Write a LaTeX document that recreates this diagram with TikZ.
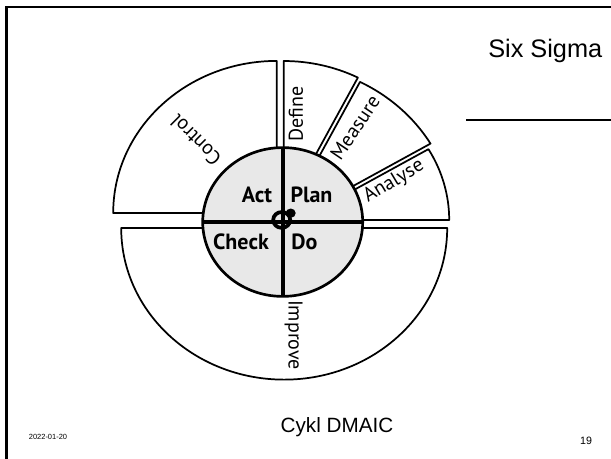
\documentclass[tikz,border=0pt]{standalone}
\usepackage{fontspec}
\setmainfont{Liberation Sans}
\newfontfamily\dfont{PT Sans}
\usetikzlibrary{calc}
\newcommand\mysector[4]{%
  \draw[sector] ($(#1)+(#2:40)$) -- ($(#1)+(#2:#4)$) arc[start angle=#2, end angle=#3, radius=#4] -- ($(#1)+(#3:40)$) -- cycle;}
\begin{document}
\begin{tikzpicture}[x=0.75pt,y=-0.75pt,
  sector/.style={draw=black,fill=white,line width=1.3pt,line join=round},
  pdca/.style={font=\dfont\bfseries\fontsize{16.5}{18}\selectfont, inner sep=0pt},
  dmaic/.style={font=\dfont\fontsize{15}{17}\selectfont, inner sep=0pt},
  frame/.style={line width=1.8pt}]
\useasboundingbox (0,0) rectangle (611,459);
\fill[white] (0,0) rectangle (611,459);
\draw[frame] (611,7) -- (6.5,7) -- (6.5,459);
\node[anchor=base west, font=\fontsize{19}{22}\selectfont, inner sep=0pt] (title) at (488,58) {Six Sigma};
\coordinate (ruleA) at (466,120);
\coordinate (ruleB) at (611,120);
\draw[line width=0.8pt] (ruleA) -- (ruleB);
\node[anchor=base, font=\fontsize{15.5}{18}\selectfont, inner sep=0pt] (caption) at (337,433) {Cykl DMAIC};
\node[anchor=base, font=\fontsize{5.6}{7}\selectfont, inner sep=0pt] (date) at (48,440) {2022-01-20};
\node[anchor=base, font=\fontsize{8}{9}\selectfont, inner sep=0pt] (page) at (586,445) {19};
\begin{scope}[shift={(282.7,222)}, yscale=-0.93]
  \mysector{-6,9.7}{90}{180}{163.5}
  \mysector{1,9.7}{63}{90}{163.4}
  \mysector{-1.24,-3.52}{30.5}{63}{173}
  \mysector{16.5,2.2}{0}{30.5}{150}
  \mysector{1.5,-6.5}{180}{360}{163}
  \draw[line width=2pt, fill=black!9] (0,0) circle[radius=80];
  \draw[line width=3pt] (0,80) -- (0,-80);
  \draw[line width=3pt] (-80,0) -- (80,0);
  \draw[line width=2.8pt] (-1,2.2) circle[radius=8.5];
  \fill (8,9.5) circle[radius=5];
\end{scope}
\node[pdca, anchor=base] (act) at (257,203) {Act};
\node[pdca, anchor=base] (plan) at (311.5,203) {Plan};
\node[pdca, anchor=base] (check) at (241,250) {Check};
\node[pdca, anchor=base] (do) at (304.5,250) {Do};
\node[dmaic, rotate=90] (define) at (296,114) {Define};
\node[dmaic, rotate=56] (measure) at (355,127.5) {Measure};
\node[dmaic, rotate=31] (analyse) at (394,181.5) {Analyse};
\node[dmaic, rotate=135] (control) at (195.5,140) {Control};
\node[dmaic, rotate=-90] (improve) at (293.5,335) {Improve};
\end{tikzpicture}
\end{document}
